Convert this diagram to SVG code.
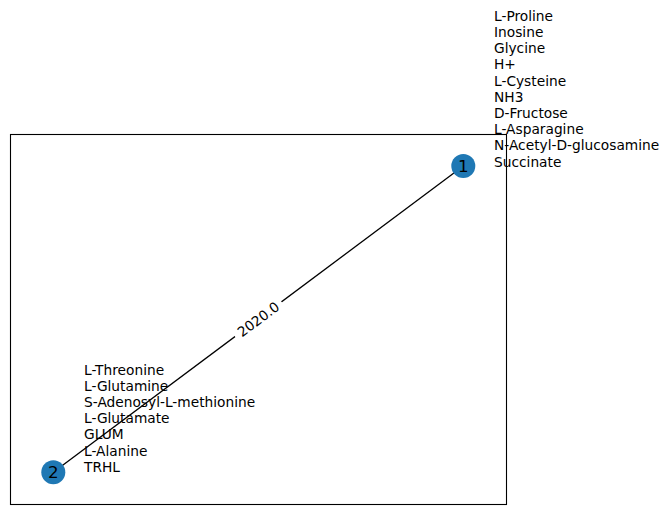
<svg xmlns="http://www.w3.org/2000/svg" width="670" height="514" viewBox="0 0 670 514">
<style>
text{font-family:"DejaVu Sans",sans-serif;fill:#000}
.lbl{font-size:13.75px}
.nl{font-size:16.7px;text-anchor:middle;dominant-baseline:central}
.node{fill:#1f78b4}
</style>
<rect width="670" height="514" fill="#fff"/>
<rect x="10.5" y="134.5" width="496" height="370" fill="none" stroke="#000" stroke-width="1.1"/>
<g id="connectors">
<line x1="463.3" y1="166" x2="53.3" y2="472.3" stroke="#000" stroke-width="1.3"/>
<g transform="translate(258.3,319.2) rotate(-36.75)">
<rect x="-29" y="-10" width="58" height="20" rx="3" fill="#fff"/>
<text class="lbl" x="0" y="0" text-anchor="middle" dominant-baseline="central">2020.0</text>
</g>
</g>
<g id="node1">
<circle class="node" cx="463.3" cy="166" r="12"/>
<text class="nl" x="463.3" y="166">1</text>
</g>
<g id="node2">
<circle class="node" cx="53.3" cy="472.3" r="12"/>
<text class="nl" x="53.3" y="472.3">2</text>
</g>
<g id="list1">
<text class="lbl" x="494" y="20.8">L-Proline</text>
<text class="lbl" x="494" y="37">Inosine</text>
<text class="lbl" x="494" y="53.2">Glycine</text>
<text class="lbl" x="494" y="69.4">H+</text>
<text class="lbl" x="494" y="85.6">L-Cysteine</text>
<text class="lbl" x="494" y="101.8">NH3</text>
<text class="lbl" x="494" y="118">D-Fructose</text>
<text class="lbl" x="494" y="134.2">L-Asparagine</text>
<text class="lbl" x="494" y="150.4">N-Acetyl-D-glucosamine</text>
<text class="lbl" x="494" y="166.6">Succinate</text>
</g>
<g id="list2">
<text class="lbl" x="84" y="375">L-Threonine</text>
<text class="lbl" x="84" y="391.1">L-Glutamine</text>
<text class="lbl" x="84" y="407.2">S-Adenosyl-L-methionine</text>
<text class="lbl" x="84" y="423.3">L-Glutamate</text>
<text class="lbl" x="84" y="439.4">GLUM</text>
<text class="lbl" x="84" y="455.5">L-Alanine</text>
<text class="lbl" x="84" y="471.6">TRHL</text>
</g>
</svg>
